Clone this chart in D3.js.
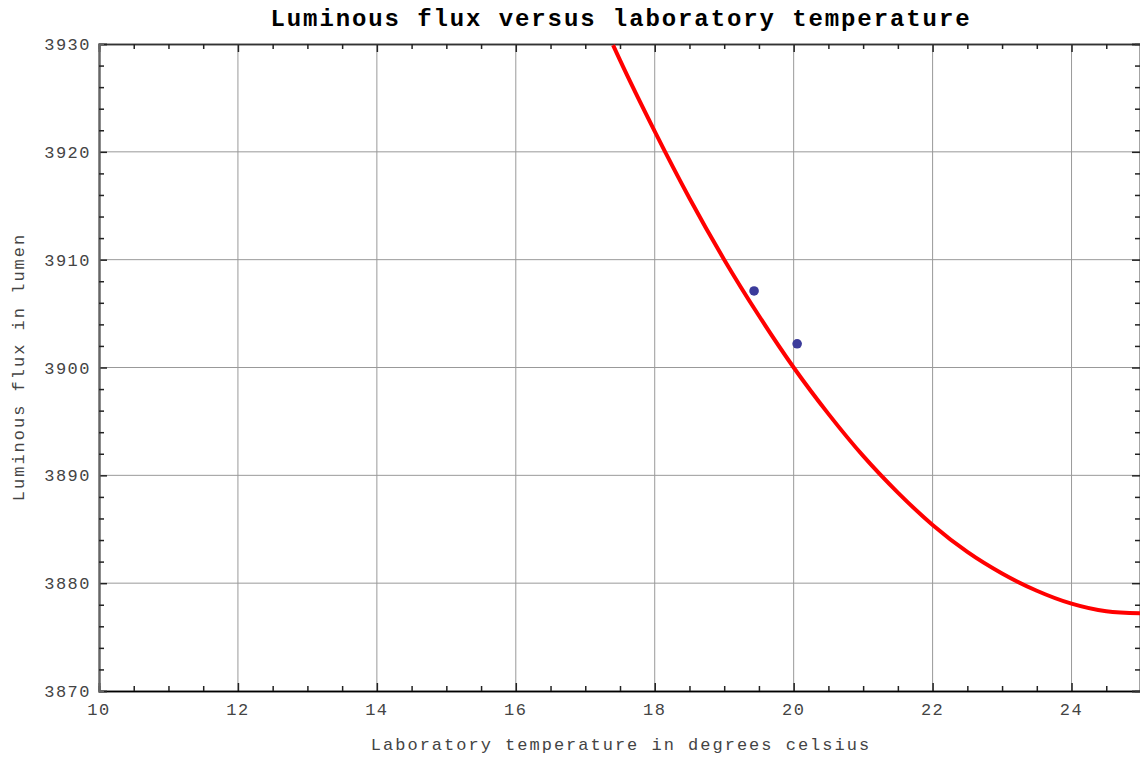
<!DOCTYPE html>
<html>
<head>
<meta charset="utf-8">
<script src="https://cdn.jsdelivr.net/npm/d3@7"></script>
<style>
  body { margin: 0; background: #fff; }
  svg { display: block; }
  text { font-family: "Liberation Mono", "Courier New", monospace; fill: #444; }
</style>
</head>
<body>
<svg width="1140" height="758"></svg>
<script>
(() => {

    // measured points
    const tempObs = [19.43, 20.05];
    const fluxObs = [3907.1, 3902.2];

    // fitted curve
    const fitTemp = [17.4, 17.5, 18, 18.5, 19, 19.5, 20, 20.5, 21, 21.5, 22, 22.5, 23, 23.5, 24, 24.5, 25];
    const fitFlux = [3929.9, 3928.5, 3921.9, 3915.7, 3910.0, 3904.8, 3900.0, 3895.7, 3891.8, 3888.4, 3885.4, 3882.9, 3880.9, 3879.3, 3878.1, 3877.4, 3877.2];

    const xTicks = [10, 12, 14, 16, 18, 20, 22, 24];
    const yTicks = [3870, 3880, 3890, 3900, 3910, 3920, 3930];

    const svg = d3.select('svg');
    const left = 99, top = 44, right = 1141, bottom = 691;

    const x = d3.scaleLinear().domain([10, 25]).range([left, right]);
    const y = d3.scaleLinear().domain([3870, 3930]).range([bottom, top]);

    // grid
    svg.append('g')
        .selectAll('line')
        .data(xTicks.slice(1))
        .enter()
        .append('line')
        .attr('x1', d => x(d)).attr('x2', d => x(d))
        .attr('y1', top).attr('y2', bottom)
        .style('stroke', '#999').style('stroke-width', 1);
    svg.append('g')
        .selectAll('line')
        .data(yTicks.slice(1, -1))
        .enter()
        .append('line')
        .attr('y1', d => y(d)).attr('y2', d => y(d))
        .attr('x1', left).attr('x2', right)
        .style('stroke', '#999').style('stroke-width', 1);

    // ticks on all four sides
    const xMinor = d3.range(10, 25.01, 0.5).filter(v => v % 2 !== 0);
    const yMinor = d3.range(3870, 3930.01, 2).filter(v => v % 10 !== 0);

    svg.append('g').attr('class', 'bx').attr('transform', `translate(0, ${bottom})`)
        .call(d3.axisTop(x).tickValues(xTicks).tickSize(8).tickFormat(''));
    svg.append('g').attr('class', 'bx').attr('transform', `translate(0, ${bottom})`)
        .call(d3.axisTop(x).tickValues(xMinor).tickSize(5).tickFormat(''));
    svg.append('g').attr('transform', `translate(0, ${top})`)
        .call(d3.axisBottom(x).tickValues(xTicks).tickSize(8).tickFormat(''));
    svg.append('g').attr('transform', `translate(0, ${top})`)
        .call(d3.axisBottom(x).tickValues(xMinor).tickSize(5).tickFormat(''));
    svg.append('g').attr('class', 'ly').attr('transform', `translate(${left}, 0)`)
        .call(d3.axisRight(y).tickValues(yTicks).tickSize(8).tickFormat(''));
    svg.append('g').attr('class', 'ly').attr('transform', `translate(${left}, 0)`)
        .call(d3.axisRight(y).tickValues(yMinor).tickSize(5).tickFormat(''));
    svg.append('g').attr('transform', `translate(${right - 1}, 0)`)
        .call(d3.axisLeft(y).tickValues(yTicks).tickSize(8).tickFormat(''));
    svg.append('g').attr('transform', `translate(${right - 1}, 0)`)
        .call(d3.axisLeft(y).tickValues(yMinor).tickSize(5).tickFormat(''));

    svg.selectAll('.domain').style('stroke', '#333').style('stroke-width', 1.5);
    svg.selectAll('.tick line').style('stroke', '#222').style('stroke-width', 1.5);
    svg.selectAll('.bx .domain').style('stroke', '#000');
    svg.selectAll('.ly .domain').style('stroke', '#666').style('stroke-width', 2);

    // tick labels
    svg.append('g')
        .selectAll('text')
        .data(xTicks)
        .enter()
        .append('text')
        .attr('x', d => x(d))
        .attr('y', 715)
        .style('text-anchor', 'middle')
        .style('font-size', '17px')
        .style('letter-spacing', '1.5px')
        .text(d => d);
    svg.append('g')
        .selectAll('text')
        .data(yTicks)
        .enter()
        .append('text')
        .attr('x', 91)
        .attr('y', d => y(d) + 6)
        .style('text-anchor', 'end')
        .style('font-size', '17px')
        .style('letter-spacing', '1.5px')
        .text(d => d);

    // curve
    svg.append('clipPath').attr('id', 'plotClip')
        .append('rect')
        .attr('x', left).attr('y', top)
        .attr('width', right - left).attr('height', bottom - top);

    const line = d3.line()
        .x(d => x(d[0]))
        .y(d => y(d[1]))
        .curve(d3.curveMonotoneX);
    svg.append('path')
        .datum(d3.zip(fitTemp, fitFlux))
        .attr('clip-path', 'url(#plotClip)')
        .attr('d', line)
        .style('fill', 'none')
        .style('stroke', '#ff0000')
        .style('stroke-width', 4);

    // points
    svg.append('g')
        .selectAll('circle')
        .data(d3.zip(tempObs, fluxObs))
        .enter()
        .append('circle')
        .attr('cx', d => x(d[0]))
        .attr('cy', d => y(d[1]))
        .attr('r', 4.8)
        .style('fill', '#3b3b9b');

    // titles
    svg.append('text')
        .attr('x', 621)
        .attr('y', 26)
        .style('text-anchor', 'middle')
        .style('font-size', '24px')
        .style('font-weight', 'bold')
        .style('letter-spacing', '1.9px')
        .style('fill', '#000')
        .text('Luminous flux versus laboratory temperature');
    svg.append('text')
        .attr('x', 621)
        .attr('y', 750)
        .style('text-anchor', 'middle')
        .style('font-size', '17px')
        .style('letter-spacing', '2px')
        .text('Laboratory temperature in degrees celsius');
    svg.append('text')
        .attr('transform', 'translate(24, 367) rotate(-90)')
        .style('text-anchor', 'middle')
        .style('font-size', '17px')
        .style('letter-spacing', '2px')
        .text('Luminous flux in lumen');

})();
</script>
</body>
</html>
